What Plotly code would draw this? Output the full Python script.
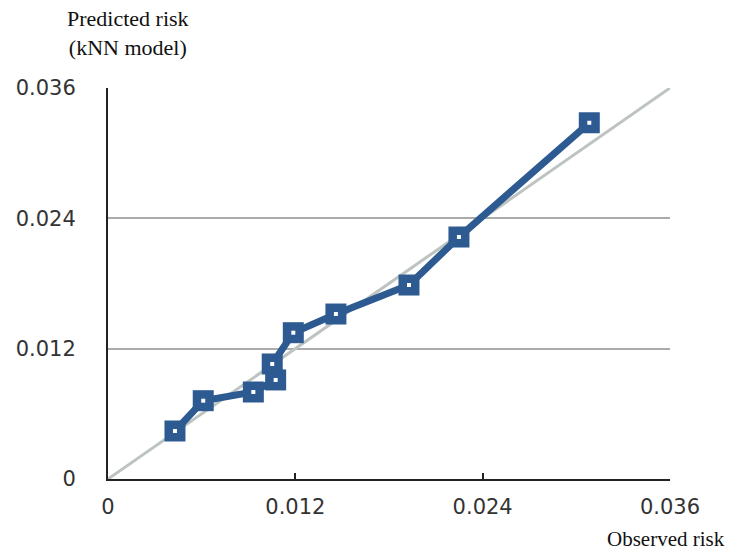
import plotly.graph_objects as go

observed = [0.00429, 0.0061, 0.00931, 0.01074, 0.01052, 0.01187, 0.0146, 0.01928, 0.02248, 0.03083]
predicted = [0.00442, 0.00721, 0.00801, 0.00912, 0.01059, 0.01347, 0.01519, 0.01786, 0.02228, 0.0328]
diag = [0, 0.036]
tick_vals = [0, 0.012, 0.024, 0.036]
tick_text = ["0", "0.012", "0.024", "0.036"]

blue = "#2E5A92"
fig = go.Figure()
fig.add_trace(go.Scatter(x=diag, y=diag, mode="lines",
                         line=dict(color="#BCC3C0", width=3), hoverinfo="skip"))
fig.add_trace(go.Scatter(x=observed, y=predicted, mode="lines+markers",
                         line=dict(color=blue, width=7),
                         marker=dict(symbol="square", size=21, color=blue)))
fig.add_trace(go.Scatter(x=observed, y=predicted, mode="markers",
                         marker=dict(symbol="square", size=4, color="white")))

fig.update_layout(
    width=732, height=550, showlegend=False,
    paper_bgcolor="white", plot_bgcolor="white",
    margin=dict(l=108, r=62, t=88, b=71),
    font=dict(family="DejaVu Sans, Liberation Sans, Arial", size=21, color="#333"),
    xaxis=dict(range=[0, 0.036], tickvals=tick_vals, ticktext=tick_text,
               showgrid=False, zeroline=False, showline=True, linecolor="#222",
               linewidth=2, ticks="inside", ticklen=6, tickwidth=2, tickcolor="#222",
               ticklabelstandoff=8, automargin=False),
    yaxis=dict(range=[0, 0.036], tickvals=tick_vals, ticktext=tick_text,
               showgrid=True, gridcolor="#A9ACAA", gridwidth=1.5, zeroline=False,
               showline=True, linecolor="#222", linewidth=2, ticks="",
               ticklabelstandoff=26, automargin=False),
    annotations=[
        dict(text="Predicted risk<br>(kNN model)", xref="paper", yref="paper",
             x=(128 - 108) / 562, y=1.0, yshift=84, xanchor="center", yanchor="top",
             showarrow=False, align="center",
             font=dict(family="Liberation Serif, Times New Roman", size=22, color="#111")),
        dict(text="Observed risk", xref="paper", yref="paper",
             x=(666 - 108) / 562, y=0, yshift=-46, xanchor="center", yanchor="top",
             showarrow=False,
             font=dict(family="Liberation Serif, Times New Roman", size=21, color="#111")),
    ],
)
fig.write_html("out.html", config={"displayModeBar": False},
               post_script="document.body.style.margin='0';")
